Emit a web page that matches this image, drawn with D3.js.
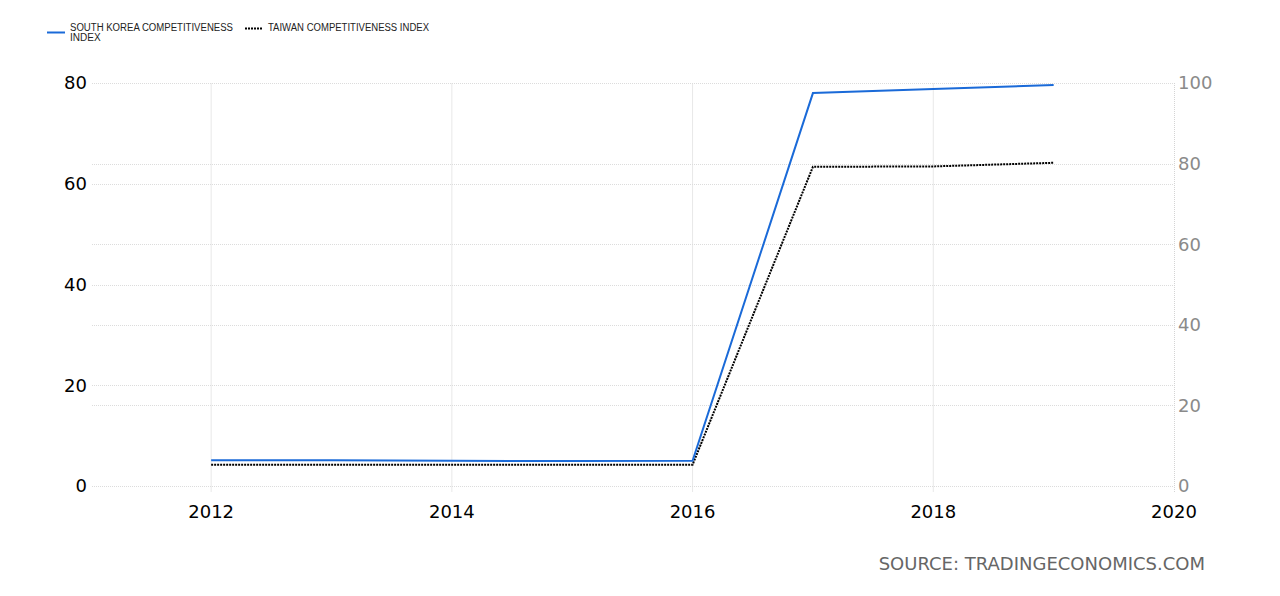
<!DOCTYPE html>
<html><head><meta charset="utf-8">
<script src="https://cdn.jsdelivr.net/npm/d3@7"></script>
<style>body{margin:0;background:#fff}svg{display:block}</style>
</head><body>
<svg id="c" width="1280" height="596"></svg>
<script>
const years = [2012, 2013, 2014, 2015, 2016, 2017, 2018, 2019];
const koreaValues = [5.12, 5.12, 5.01, 4.96, 4.99, 78.0, 78.8, 79.6];
const taiwanValues = [5.28, 5.29, 5.25, 5.28, 5.28, 79.2, 79.3, 80.2];
const xTicks = [2012, 2014, 2016, 2018, 2020];
const leftTicks = [0, 20, 40, 60, 80];
const rightTicks = [0, 20, 40, 60, 80, 100];
const seriesNames = ["SOUTH KOREA COMPETITIVENESS", "INDEX", "TAIWAN COMPETITIVENESS INDEX"];
const sourceText = "SOURCE: TRADINGECONOMICS.COM";

const svg = d3.select("#c");
const L = 92, R = 1174, T = 83, B = 486;
const x = d3.scaleLinear().domain([2011.01, 2020]).range([L, R]);
const yL = d3.scaleLinear().domain([0, 80]).range([B, T]);
const yR = d3.scaleLinear().domain([0, 100]).range([B, T]);

const grid = svg.append("g");
xTicks.filter(t => t < 2020).forEach(t => {
  grid.append("line").attr("x1", x(t)).attr("x2", x(t)).attr("y1", T).attr("y2", B + 6)
    .attr("stroke", "#e8e8e8").attr("stroke-width", 1);
});
leftTicks.forEach(t => {
  grid.append("line").attr("x1", L).attr("x2", R).attr("y1", Math.round(yL(t)) + 0.5).attr("y2", Math.round(yL(t)) + 0.5)
    .attr("stroke", "#dcdcdc").attr("stroke-dasharray", "1,1");
});
rightTicks.forEach(t => {
  grid.append("line").attr("x1", L).attr("x2", R).attr("y1", Math.round(yR(t)) + 0.5).attr("y2", Math.round(yR(t)) + 0.5)
    .attr("stroke", "#dcdcdc").attr("stroke-dasharray", "1,1");
});
grid.append("line").attr("x1", R + 0.5).attr("x2", R + 0.5).attr("y1", T).attr("y2", B + 6)
  .attr("stroke", "#d4d4d4").attr("stroke-dasharray", "1,1");

const font = "'DejaVu Sans', Verdana, sans-serif";
const lab = svg.append("g").attr("font-family", font).attr("font-size", 18);
leftTicks.forEach(t => {
  lab.append("text").attr("x", 87).attr("y", yL(t)).attr("dy", "0.35em").attr("text-anchor", "end")
    .attr("fill", "#000").text(t);
});
rightTicks.forEach(t => {
  lab.append("text").attr("x", 1178).attr("y", yR(t)).attr("dy", "0.35em").attr("text-anchor", "start")
    .attr("fill", "#8a8a8a").text(t);
});
xTicks.forEach(t => {
  lab.append("text").attr("x", x(t)).attr("y", 518).attr("text-anchor", "middle")
    .attr("fill", "#000").text(t);
});

const lineK = d3.line().x((d, i) => x(years[i])).y(d => yL(d));
const lineT = d3.line().x((d, i) => x(years[i])).y(d => yR(d));
svg.append("path").attr("d", lineT(taiwanValues)).attr("fill", "none")
  .attr("stroke", "#000").attr("stroke-width", 2).attr("stroke-dasharray", "2,1");
svg.append("path").attr("d", lineK(koreaValues)).attr("fill", "none")
  .attr("stroke", "#1a6ad8").attr("stroke-width", 2);

const lg = svg.append("g").attr("font-family", "'Liberation Sans', Arial, sans-serif").attr("font-size", 10).attr("fill", "#222");
lg.append("line").attr("x1", 47).attr("x2", 65).attr("y1", 32.5).attr("y2", 32.5).attr("stroke", "#1a6ad8").attr("stroke-width", 2);
lg.append("text").attr("x", 70).attr("y", 31).attr("textLength", 163).attr("lengthAdjust", "spacingAndGlyphs").text(seriesNames[0]);
lg.append("text").attr("x", 70).attr("y", 41).text(seriesNames[1]);
lg.append("line").attr("x1", 245).attr("x2", 263).attr("y1", 28.5).attr("y2", 28.5).attr("stroke", "#000").attr("stroke-width", 2).attr("stroke-dasharray", "2,1");
lg.append("text").attr("x", 268).attr("y", 31).attr("textLength", 161).attr("lengthAdjust", "spacingAndGlyphs").text(seriesNames[2]);

svg.append("text").attr("x", 1205).attr("y", 570).attr("text-anchor", "end")
  .attr("font-family", font).attr("font-size", 18).attr("fill", "#666").text(sourceText);
</script>
</body></html>
